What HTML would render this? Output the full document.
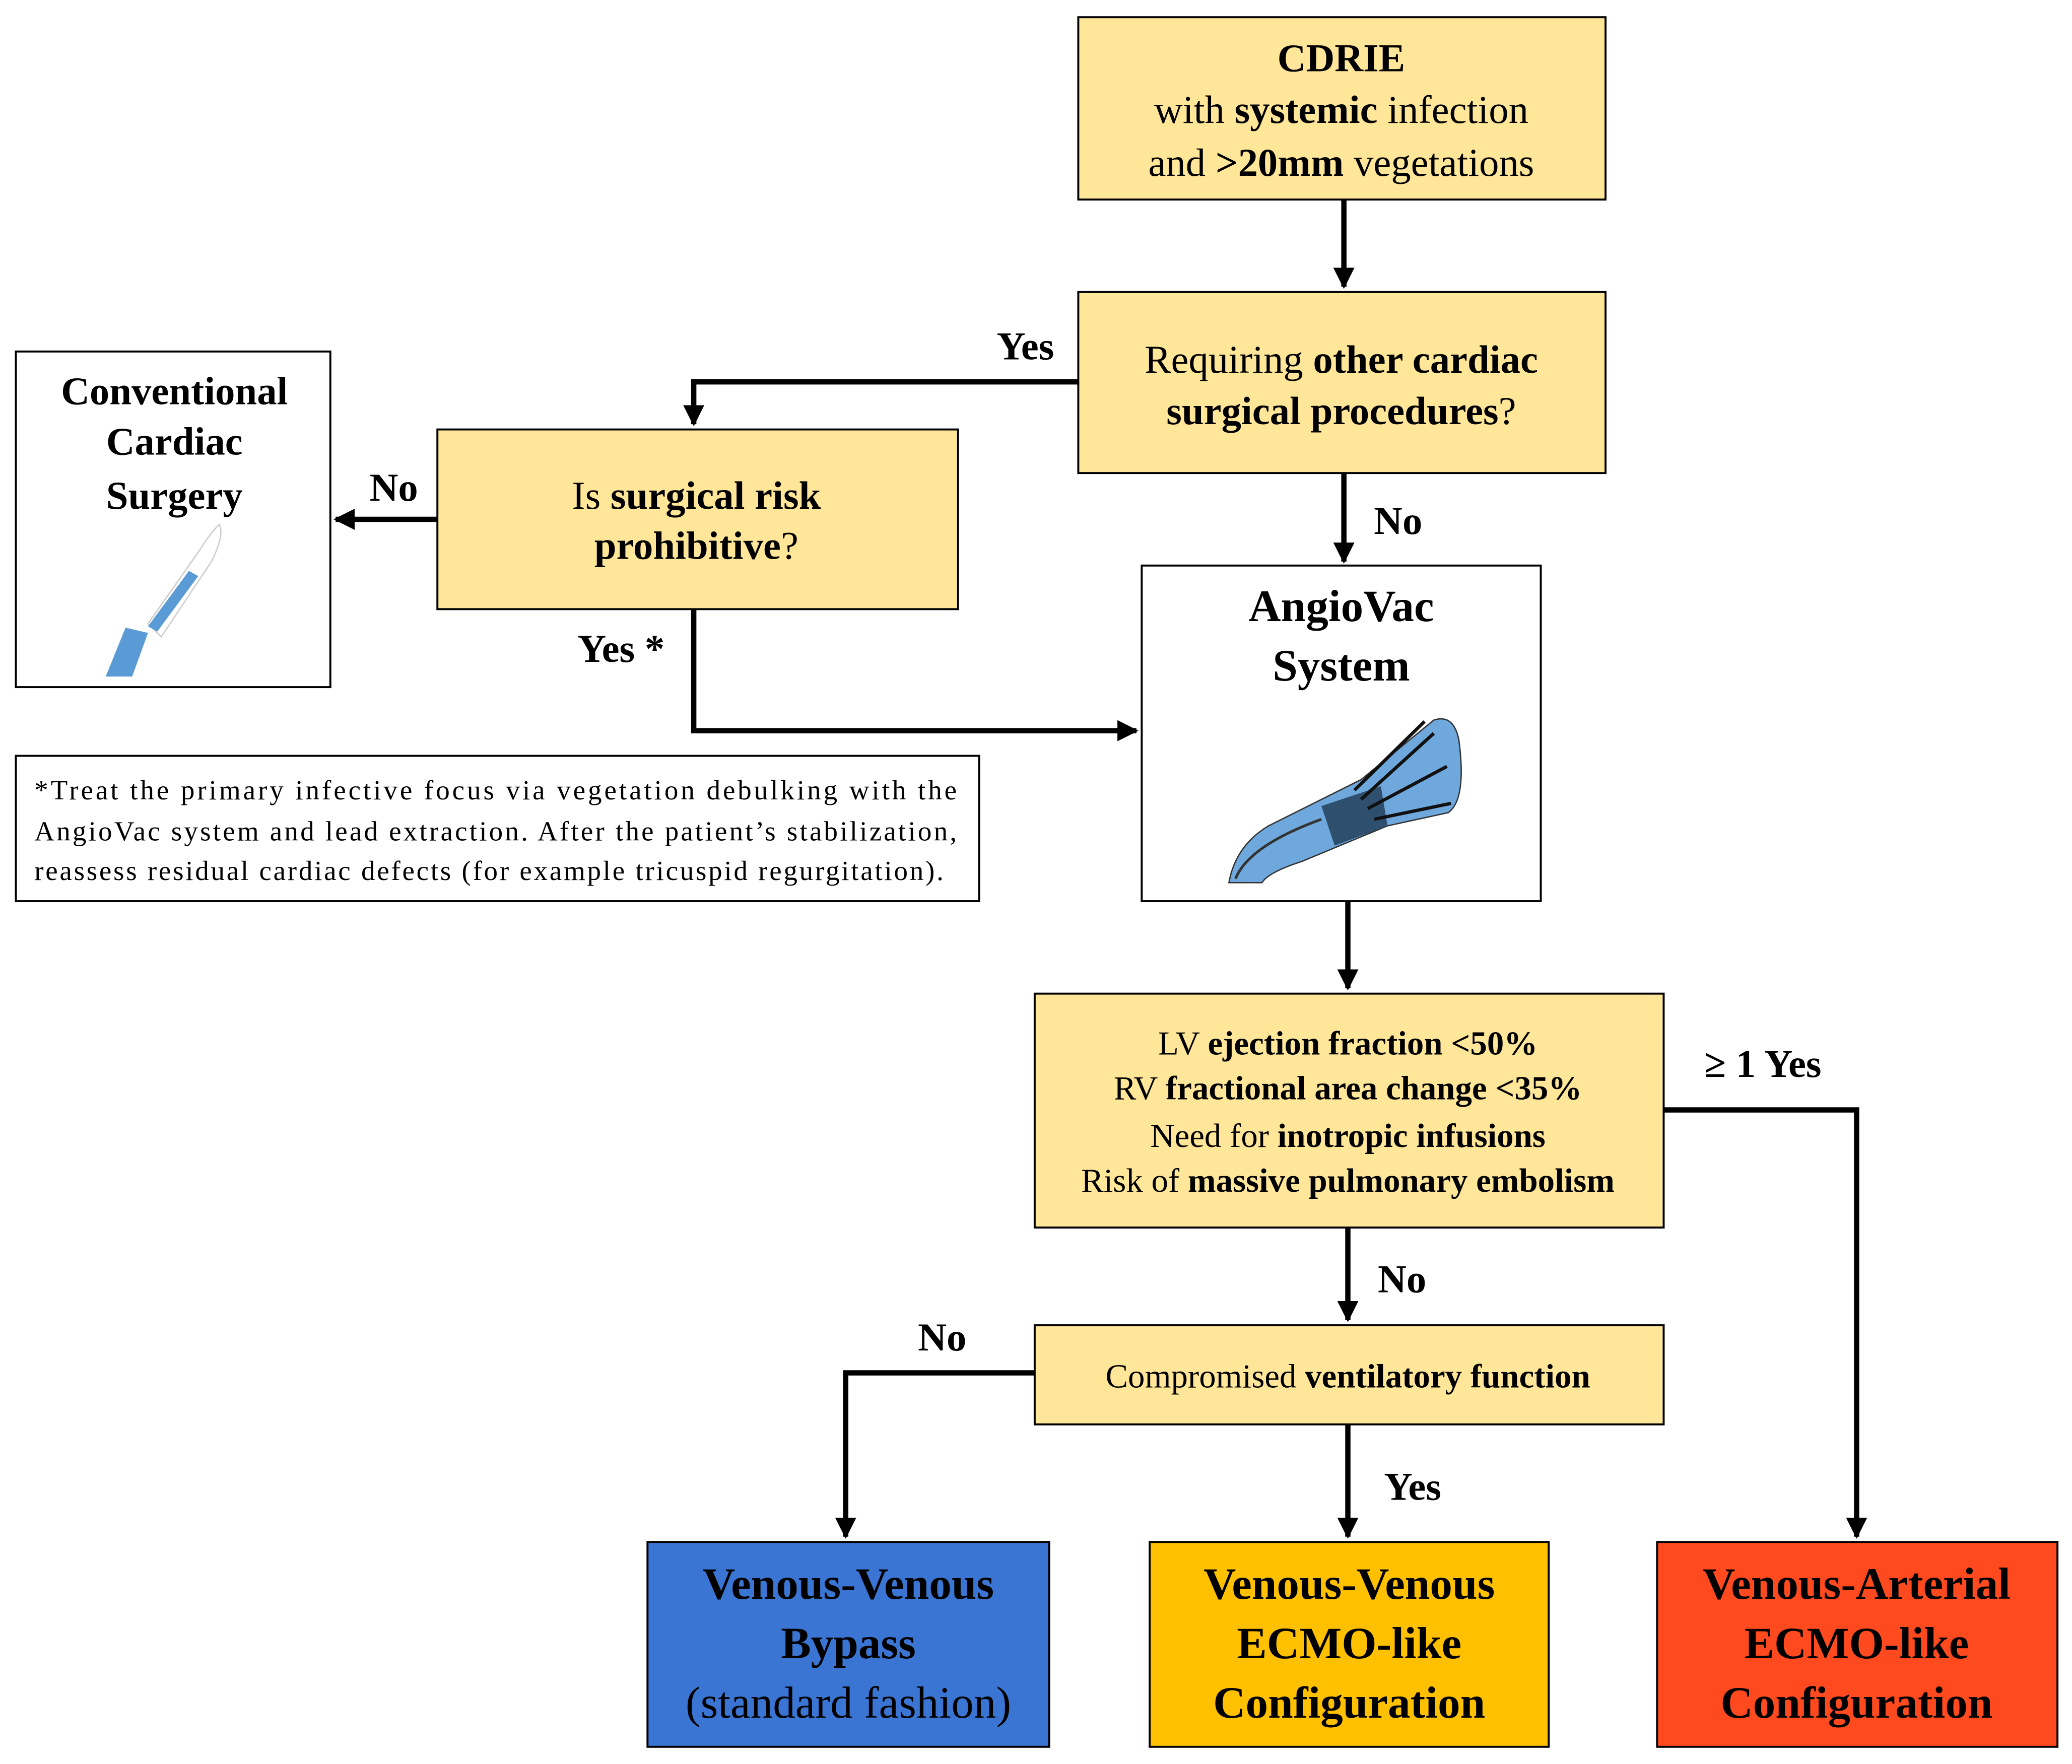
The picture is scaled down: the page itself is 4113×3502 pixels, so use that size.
<!DOCTYPE html>
<html><head><meta charset="utf-8"><style>
html,body{margin:0;padding:0;background:#fff}
svg{display:block}
svg text{font-family:"Liberation Serif","Times New Roman","Nimbus Roman",serif}
.b{font-weight:bold}
</style></head><body>
<svg width="4113" height="3502" viewBox="0 0 1568 1335" xmlns="http://www.w3.org/2000/svg" font-family="'Liberation Serif', 'Times New Roman', serif">
<defs>
<marker id="ah" markerWidth="4" markerHeight="4" refX="3.6" refY="2" orient="auto" markerUnits="strokeWidth">
<path d="M0,0 L4,2 L0,4 Z" fill="#000"/></marker>
</defs>
<g stroke="#000" stroke-width="1.5">
<rect x="816" y="13" width="399" height="138" fill="#FFE699"/>
<rect x="816" y="221" width="399" height="137" fill="#FFE699"/>
<rect x="331" y="325" width="394" height="136" fill="#FFE699"/>
<rect x="12" y="266" width="238" height="254" fill="#fff"/>
<rect x="864" y="428" width="302" height="254" fill="#fff"/>
<rect x="12" y="572" width="729" height="110" fill="#fff"/>
<rect x="783" y="752" width="476" height="177" fill="#FFE699"/>
<rect x="783" y="1003" width="476" height="75" fill="#FFE699"/>
<rect x="490" y="1167" width="304" height="155" fill="#3A75D3"/>
<rect x="870" y="1167" width="302" height="155" fill="#FFC000"/>
<rect x="1254" y="1167" width="303" height="155" fill="#FF4A1F"/>
</g>
<g stroke="#000" stroke-width="4" fill="none" marker-end="url(#ah)">
<path d="M1017 151 V217"/>
<path d="M816 289 H525 V321"/>
<path d="M331 393 H254"/>
<path d="M525 461 V553 H860"/>
<path d="M1017 358 V425"/>
<path d="M1020 682 V748"/>
<path d="M1259 840 H1405 V1163"/>
<path d="M1020 929 V999"/>
<path d="M783 1039 H640 V1163"/>
<path d="M1020 1078 V1163"/>
</g>
<!-- scalpel -->
<path d="M112 472 L150 418 Q160 402 166 397 Q170 405 160 425 L122 482 Z" fill="#fff" stroke="#ccc" stroke-width="1"/>
<path d="M112 474 L143 432 L150 436 L119 478 Z" fill="#5B9BD5"/>
<path d="M95 475 L112 479 L100 512 L80 512 Z" fill="#5B9BD5"/>
<!-- angiovac device -->
<g>
<path d="M930 668 Q935 640 960 625 L1030 590 L1085 545 Q1100 540 1104 560 Q1110 605 1096 615 L1050 625 L985 652 Q960 660 955 668 Z" fill="#6FA8DC" stroke="#333" stroke-width="1"/>
<path d="M1000 610 L1045 595 L1050 625 L1010 640 Z" fill="#2F4F6F"/>
<path d="M1030 605 L1085 555 M1035 612 L1095 580 M1040 620 L1098 608 M1025 598 L1078 546" stroke="#111" stroke-width="2.5"/>
<path d="M935 665 Q945 640 1000 620" stroke="#333" stroke-width="2" fill="none"/>
</g>
<g font-size="30">
<text x="1015" y="54" text-anchor="middle" class="b">CDRIE</text>
<text x="1015" y="93" text-anchor="middle">with <tspan class="b">systemic</tspan> infection</text>
<text x="1015" y="133" text-anchor="middle">and <tspan class="b">&gt;20mm</tspan> vegetations</text>
<text x="1015" y="282" text-anchor="middle">Requiring <tspan class="b">other cardiac</tspan></text>
<text x="1015" y="321" text-anchor="middle" class="b">surgical procedures<tspan font-weight="normal">?</tspan></text>
<text x="527" y="385" text-anchor="middle">Is <tspan class="b">surgical risk</tspan></text>
<text x="527" y="423" text-anchor="middle"><tspan class="b">prohibitive</tspan>?</text>
<text x="132" y="306" text-anchor="middle" class="b">Conventional</text>
<text x="132" y="344" text-anchor="middle" class="b">Cardiac</text>
<text x="132" y="385" text-anchor="middle" class="b">Surgery</text>
<text x="776" y="272" text-anchor="middle" class="b">Yes</text>
<text x="298" y="379" text-anchor="middle" class="b">No</text>
<text x="470" y="501" text-anchor="middle" class="b">Yes *</text>
<text x="1058" y="404" text-anchor="middle" class="b">No</text>
<text x="1334" y="815" text-anchor="middle" class="b">≥ 1 Yes</text>
<text x="1061" y="978" text-anchor="middle" class="b">No</text>
<text x="713" y="1022" text-anchor="middle" class="b">No</text>
<text x="1069" y="1135" text-anchor="middle" class="b">Yes</text>
</g>
<g font-size="34" class="b">
<text x="1015" y="470" text-anchor="middle">AngioVac</text>
<text x="1015" y="515" text-anchor="middle">System</text>
<text x="642" y="1210" text-anchor="middle">Venous-Venous</text>
<text x="642" y="1255" text-anchor="middle">Bypass</text>
<text x="642" y="1300" text-anchor="middle" font-weight="normal">(standard fashion)</text>
<text x="1021" y="1210" text-anchor="middle">Venous-Venous</text>
<text x="1021" y="1255" text-anchor="middle">ECMO-like</text>
<text x="1021" y="1300" text-anchor="middle">Configuration</text>
<text x="1405" y="1210" text-anchor="middle">Venous-Arterial</text>
<text x="1405" y="1255" text-anchor="middle">ECMO-like</text>
<text x="1405" y="1300" text-anchor="middle">Configuration</text>
</g>
<g font-size="25.5">
<text x="1020" y="798" text-anchor="middle">LV <tspan class="b">ejection fraction &lt;50%</tspan></text>
<text x="1020" y="832" text-anchor="middle">RV <tspan class="b">fractional area change &lt;35%</tspan></text>
<text x="1020" y="868" text-anchor="middle">Need for <tspan class="b">inotropic infusions</tspan></text>
<text x="1020" y="902" text-anchor="middle">Risk of <tspan class="b">massive pulmonary embolism</tspan></text>
<text x="1020" y="1050" text-anchor="middle">Compromised <tspan class="b">ventilatory function</tspan></text>
</g>
<g font-size="21">
<text x="26" y="605" textLength="698" lengthAdjust="spacing">*Treat the primary infective focus via vegetation debulking with the</text>
<text x="26" y="636" textLength="698" lengthAdjust="spacing">AngioVac system and lead extraction. After the patient’s stabilization,</text>
<text x="26" y="666" textLength="688" lengthAdjust="spacing">reassess residual cardiac defects (for example tricuspid regurgitation).</text>
</g>
</svg>
</body></html>
